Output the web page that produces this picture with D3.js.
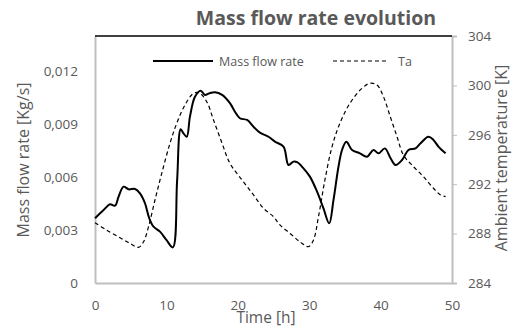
<!DOCTYPE html>
<html>
<head>
<meta charset="utf-8">
<script src="https://d3js.org/d3.v7.min.js"></script>
<style>
  body { margin: 0; background: #fff; }
  svg { display: block; font-family: "Open Sans", sans-serif; }
</style>
</head>
<body>
<svg id="chart" width="521" height="329"></svg>
<script>
// Mass flow rate series (time [h] / kg/s)
const massTime = [0, 1.2, 2.1, 2.8, 3.3, 4.0, 4.7, 5.6, 6.3, 7.0, 7.6, 8.2, 9.1, 10.0, 10.9, 11.5, 12.0, 12.4, 12.85, 13.3, 14.0, 14.8, 15.4, 16.0, 16.8, 17.8, 18.9, 19.6, 20.3, 21.3, 22.2, 23.1, 24.3, 25.2, 26.4, 27.1, 27.8, 28.3, 29.2, 30.1, 31.1, 32.0, 32.8, 33.4, 34.1, 34.6, 35.2, 36.0, 37.1, 38.1, 39.0, 39.7, 40.6, 41.4, 42.1, 43.0, 43.9, 44.9, 45.6, 46.7, 47.4, 48.1, 49.1];
const massFlow = [0.00367, 0.00414, 0.00446, 0.00438, 0.00489, 0.00546, 0.00531, 0.00533, 0.00508, 0.00452, 0.00367, 0.00319, 0.00291, 0.00244, 0.00202, 0.0058, 0.00871, 0.00848, 0.00829, 0.00943, 0.01056, 0.0109, 0.01066, 0.01075, 0.01081, 0.01066, 0.01019, 0.00971, 0.00934, 0.00924, 0.00886, 0.00852, 0.00829, 0.00801, 0.00773, 0.00669, 0.00688, 0.00685, 0.0065, 0.00603, 0.00518, 0.00423, 0.00338, 0.0047, 0.00659, 0.00754, 0.00801, 0.00754, 0.00735, 0.00716, 0.00754, 0.00735, 0.00763, 0.00707, 0.00669, 0.00697, 0.00754, 0.00763, 0.00792, 0.00829, 0.00811, 0.00773, 0.00735];

// Ambient temperature series (time [h] / K)
const taTime = [0, 1.6, 3.5, 4.9, 6.1, 6.8, 7.5, 8.4, 9.35, 10.5, 11.45, 12.6, 13.8, 14.6, 15.65, 16.6, 17.8, 18.9, 20.6, 22.2, 23.6, 25.0, 25.9, 27.3, 28.7, 29.9, 30.6, 31.3, 32.2, 33.2, 34.3, 35.7, 37.4, 38.5, 39.5, 40.4, 41.35, 42.3, 43.2, 44.6, 46.0, 47.4, 48.4, 49.1];
const taValues = [288.88, 288.29, 287.67, 287.21, 286.89, 287.34, 288.56, 290.72, 292.88, 295.31, 296.93, 298.41, 299.36, 299.4, 298.68, 297.2, 295.31, 293.69, 292.34, 291.13, 290.05, 289.37, 288.7, 288.02, 287.34, 286.94, 287.48, 289.37, 292.34, 295.04, 296.93, 298.55, 299.77, 300.17, 300.03, 299.09, 297.47, 295.85, 294.36, 293.42, 292.61, 291.67, 291.13, 290.99];

// Tick labels
const xTicks = [0, 10, 20, 30, 40, 50];
const leftTicks = [0, 0.003, 0.006, 0.009, 0.012];
const rightTicks = [284, 288, 292, 296, 300, 304];

const legendNames = ["Mass flow rate", "Ta"];

// Plot area
const plotLeft = 95, plotRight = 452, plotTop = 36, plotBottom = 283;
const textColor = "#595959";
const axisColor = "#bfbfbf";

const svg = d3.select("#chart");

const x = d3.scaleLinear().domain([0, 50]).range([plotLeft, plotRight]);
const yLeft = d3.scaleLinear().domain([0, 0.014]).range([plotBottom, plotTop]);
const yRight = d3.scaleLinear().domain([284, 304]).range([plotBottom, plotTop]);

// Title
svg.append("text")
  .attr("x", 316).attr("y", 25)
  .attr("text-anchor", "middle")
  .attr("font-size", "19.5px").attr("font-weight", "bold")
  .attr("fill", textColor)
  .text("Mass flow rate evolution");

// Axes
const fmt = (d) => (d === 0 ? "0" : d3.format(".3f")(d).replace(".", ","));

const xAxis = svg.append("g")
  .attr("transform", `translate(0,${plotBottom})`)
  .call(d3.axisBottom(x).tickValues(xTicks).tickSize(0).tickPadding(17));

const lAxis = svg.append("g")
  .attr("transform", `translate(${plotLeft},0)`)
  .call(d3.axisLeft(yLeft).tickValues(leftTicks).tickFormat(fmt).tickSize(0).tickPadding(17));

const rAxis = svg.append("g")
  .attr("transform", `translate(${plotRight},0)`)
  .call(d3.axisRight(yRight).tickValues(rightTicks).tickSize(5).tickPadding(11));

[xAxis, lAxis, rAxis].forEach((g) => {
  g.select(".domain").attr("stroke", axisColor).attr("stroke-width", 2);
  g.selectAll(".tick line").attr("stroke", axisColor);
  g.selectAll(".tick text")
    .attr("fill", textColor)
    .attr("font-size", "13.5px")
    .attr("font-family", "Open Sans, sans-serif");
});

// Top border
svg.append("line")
  .attr("x1", plotLeft).attr("x2", plotRight)
  .attr("y1", plotTop).attr("y2", plotTop)
  .attr("stroke", "#000").attr("stroke-width", 1.5);

// Axis titles
svg.append("text")
  .attr("x", 266).attr("y", 323)
  .attr("text-anchor", "middle")
  .attr("font-size", "15.5px").attr("fill", textColor)
  .text("Time [h]");

svg.append("text")
  .attr("transform", "translate(29,160) rotate(-90)")
  .attr("text-anchor", "middle")
  .attr("font-size", "16px").attr("fill", textColor)
  .text("Mass flow rate [Kg/s]");

svg.append("text")
  .attr("transform", "translate(507,158) rotate(-90)")
  .attr("text-anchor", "middle")
  .attr("font-size", "16px").attr("fill", textColor)
  .text("Ambient temperature [K]");

// Lines
const massLine = d3.line()
  .x((d, i) => x(massTime[i]))
  .y((d) => yLeft(d))
  .curve(d3.curveCatmullRom.alpha(0.5));

const taLine = d3.line()
  .x((d, i) => x(taTime[i]))
  .y((d) => yRight(d))
  .curve(d3.curveCatmullRom.alpha(0.5));

svg.append("path")
  .attr("d", taLine(taValues))
  .attr("fill", "none")
  .attr("stroke", "#000")
  .attr("stroke-width", 1.2)
  .attr("stroke-dasharray", "4,3");

svg.append("path")
  .attr("d", massLine(massFlow))
  .attr("fill", "none")
  .attr("stroke", "#000")
  .attr("stroke-width", 2);

// Legend
const legend = svg.append("g");
legend.append("line")
  .attr("x1", 153).attr("x2", 213).attr("y1", 61).attr("y2", 61)
  .attr("stroke", "#000").attr("stroke-width", 2);
legend.append("text")
  .attr("x", 219).attr("y", 65.5)
  .attr("font-size", "12.5px").attr("fill", textColor)
  .text(legendNames[0]);
legend.append("line")
  .attr("x1", 333).attr("x2", 388).attr("y1", 61).attr("y2", 61)
  .attr("stroke", "#000").attr("stroke-width", 1.2)
  .attr("stroke-dasharray", "4,3");
legend.append("text")
  .attr("x", 398).attr("y", 65.5)
  .attr("font-size", "12.5px").attr("fill", textColor)
  .text(legendNames[1]);
</script>
</body>
</html>
